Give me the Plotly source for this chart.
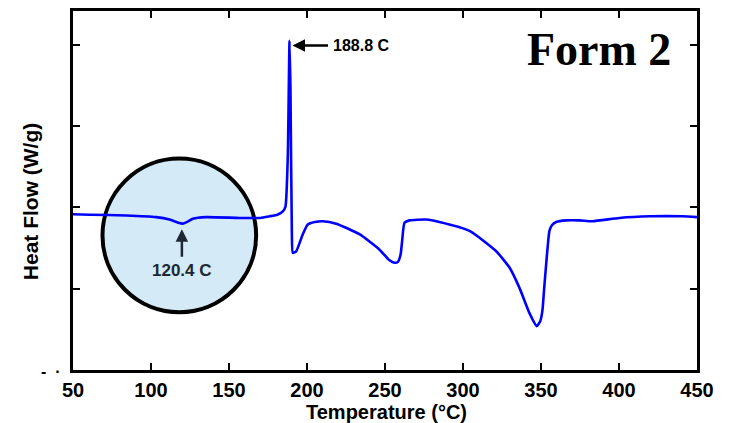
import plotly.graph_objects as go

# Temperature (°C) and heat flow (arbitrary units)
temperature = [50, 60.6, 84.1, 103.3, 111.9, 117, 120.4, 124, 126.8, 135.4, 156.7, 170, 176.0, 181,
               184.5, 186.2, 187.7, 188.8, 189.4, 190.3, 190.9, 193.1, 197.3, 200.5, 205, 210.1,
               218.7, 233.6, 246.5, 252.9, 256.1, 258.3, 260.0, 261.0, 262.5, 265.7, 276.4, 284.9, 304.2,
               321.3, 329.8, 336.2, 342.6, 347.3, 349.5, 350.9, 352.1, 353.3, 354.3, 355.4, 357.0,
               359.7, 366.2, 374.7, 383.0, 400.3, 419.6, 440.7, 450]
heat_flow = [1.915, 1.91, 1.90, 1.88, 1.85, 1.815, 1.80, 1.83, 1.86, 1.88, 1.87, 1.87, 1.89, 1.91,
             1.95, 2.01, 2.64, 4.05, 3.45, 1.67, 1.44, 1.46, 1.67, 1.79, 1.82, 1.83,
             1.80, 1.67, 1.48, 1.35, 1.32, 1.33, 1.42, 1.59, 1.81, 1.84, 1.85, 1.82, 1.71,
             1.46, 1.26, 1.01, 0.70, 0.54, 0.60, 0.73, 1.02, 1.30, 1.52, 1.71, 1.78,
             1.82, 1.84, 1.84, 1.83, 1.87, 1.89, 1.89, 1.88]

x_ticks = [50, 100, 150, 200, 250, 300, 350, 400, 450]
y_ticks = [0, 1, 2, 3, 4]

peak_label = "188.8 C"
peak_x, peak_y = 190.7, 3.99
dip_label = "120.4 C"
dip_x, dip_y = 119.8, 1.73

label_font = dict(family="Arial", size=16, color="black", weight="bold")

fig = go.Figure()

# highlighted circle
fig.add_shape(type="circle", xref="x", yref="y", x0=68.9, x1=167.4, y0=0.71, y1=2.60,
              fillcolor="#D4EAF7", line=dict(color="black", width=4), layer="below")

fig.add_trace(go.Scatter(x=temperature, y=heat_flow, mode="lines",
                         line=dict(color="#0000FF", width=2.6, shape="spline", smoothing=0.5),
                         hoverinfo="skip", showlegend=False))

# 188.8 arrow and label
fig.add_annotation(x=peak_x, y=peak_y, xref="x", yref="y", text="", showarrow=True,
                   ax=37, ay=0, arrowhead=2, arrowsize=1, arrowwidth=2.5, arrowcolor="black")
fig.add_annotation(x=215.5, y=peak_y, xref="x", yref="y", text=peak_label, showarrow=False,
                   xanchor="left", yanchor="middle", font=label_font)

# 120.4 arrow and label
fig.add_annotation(x=dip_x, y=dip_y, xref="x", yref="y", text="", showarrow=True,
                   ax=0, ay=29, arrowhead=2, arrowsize=1, arrowwidth=2.5, arrowcolor="#1C2833")
fig.add_annotation(x=dip_x, y=1.22, xref="x", yref="y", text=dip_label, showarrow=False,
                   xanchor="center", yanchor="middle",
                   font=dict(family="Arial", size=17, color="#1C2833", weight="bold"))

# Form 2
fig.add_annotation(x=0.843, y=0.893, xref="paper", yref="paper", text="Form 2", showarrow=False,
                   xanchor="center", yanchor="middle",
                   font=dict(family="Liberation Serif, Times New Roman", size=46, color="black", weight="bold"))

# axis titles
fig.add_annotation(x=0.503, y=-0.118, xref="paper", yref="paper", text="Temperature (°C)",
                   showarrow=False, xanchor="center", yanchor="middle",
                   font=dict(family="Arial", size=20, color="black", weight="bold"))
fig.add_annotation(x=-0.069, y=0.47, xref="paper", yref="paper", text="Heat Flow (W/g)",
                   showarrow=False, xanchor="center", yanchor="middle", textangle=-90,
                   font=dict(family="Arial", size=21, color="black", weight="bold"))
fig.add_annotation(x=-0.035, y=-0.004, xref="paper", yref="paper", text="-  ·",
                   showarrow=False, xanchor="center", yanchor="middle",
                   font=dict(family="Arial", size=16, color="black", weight="bold"))

fig.update_xaxes(range=[50, 450], tickvals=x_ticks, ticktext=[str(v) for v in x_ticks],
                 ticks="inside", ticklen=7, tickwidth=2, tickcolor="black",
                 showline=True, linewidth=3, linecolor="black", mirror="ticks",
                 showgrid=False, zeroline=False,
                 tickfont=dict(family="Arial", size=20, color="black", weight="bold"))
fig.update_yaxes(range=[0, 4.415], tickvals=y_ticks, showticklabels=False,
                 ticks="inside", ticklen=7, tickwidth=2, tickcolor="black",
                 showline=True, linewidth=3, linecolor="black", mirror="ticks",
                 showgrid=False, zeroline=False)

fig.update_layout(width=730, height=423, margin=dict(l=73, r=33, t=8, b=53),
                  paper_bgcolor="white", plot_bgcolor="white", showlegend=False)

fig.write_html("out.html")
